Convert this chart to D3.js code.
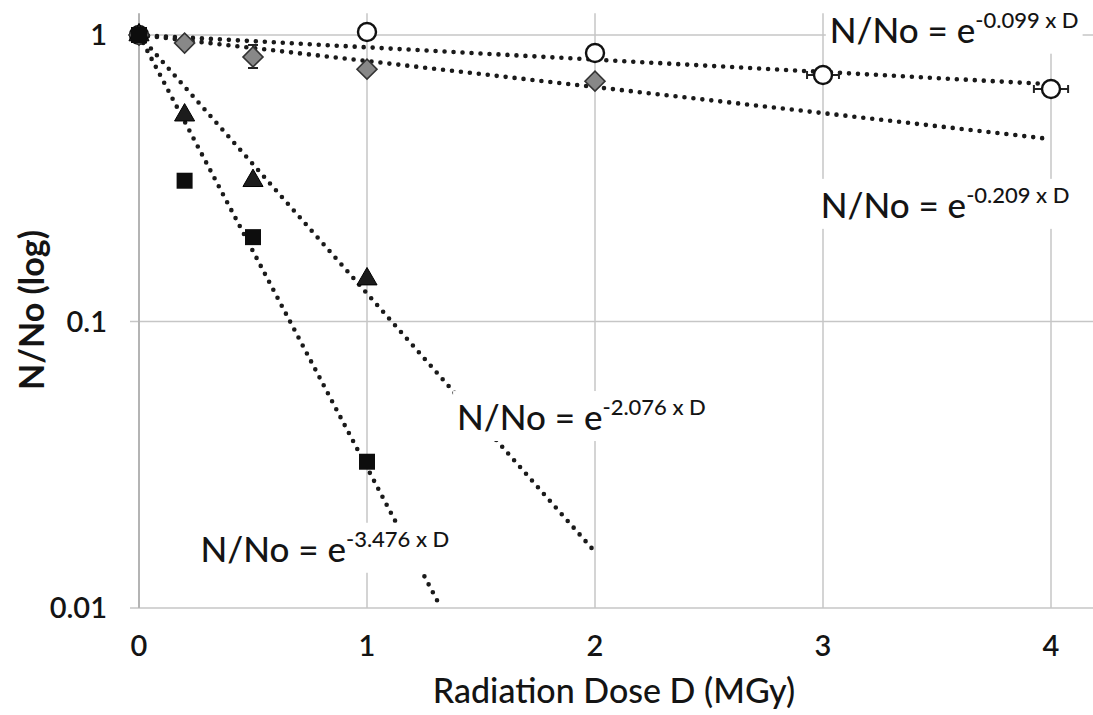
<!DOCTYPE html>
<html>
<head>
<meta charset="utf-8">
<script src="https://cdn.jsdelivr.net/npm/d3@7"></script>
<style>
  html, body { margin: 0; padding: 0; background: #fff; }
  svg { display: block; font-family: Lato, "Open Sans", sans-serif; }
</style>
</head>
<body>
<div id="chart"></div>
<script>
// survival data (dose in MGy, N/No)
const circleDose = [0, 1, 2, 3, 4];
const circleVal = [1, 1.025, 0.865, 0.725, 0.648];
const circleXErr = [0, 0, 0.02, 0.07, 0.075];

const diamondDose = [0, 0.2, 0.5, 1, 2];
const diamondVal = [1, 0.937, 0.838, 0.76, 0.69];
const diamondYLow = [1, 0.937, 0.767, 0.76, 0.69];
const diamondYHigh = [1, 0.937, 0.923, 0.76, 0.69];
const diamondXErr = [0, 0, 0, 0, 0.02];

const triangleDose = [0, 0.2, 0.5, 1];
const triangleVal = [1, 0.525, 0.31, 0.1406];

const squareDose = [0, 0.2, 0.5, 1];
const squareVal = [1, 0.31, 0.197, 0.0324];

// exponential fits: start and end of each dotted trend line
const trendExp = ["-0.099 x D", "-0.209 x D", "-2.076 x D", "-3.476 x D"];
const trendDoseEnd = [4, 4, 2, 1.325];
const trendValEnd = [0.673, 0.433, 0.0157, 0.01];

const xTicks = [0, 1, 2, 3, 4];
const yTicks = [1, 0.1, 0.01];
const yTickLabels = ["1", "0.1", "0.01"];

const width = 1093, height = 715;

const svg = d3.select('#chart').append('svg')
    .attr('width', width)
    .attr('height', height);

svg.append('rect').attr('width', width).attr('height', height).attr('fill', '#fff');

const x = d3.scaleLinear().domain([0, 4.2]).range([139, 139 + 4.2 * 228]);
const y = d3.scaleLog().domain([0.01, 1]).range([608, 35]);
const yTop = 1.19; // top of the plot area

const gridColor = '#c6c6c6';
const textColor = '#141414';

// horizontal gridlines (they poke out left as tick marks)
svg.append('g').selectAll('line')
    .data(yTicks)
    .join('line')
    .attr('x1', 130)
    .attr('x2', width)
    .attr('y1', d => y(d))
    .attr('y2', d => y(d))
    .attr('stroke', gridColor)
    .attr('stroke-width', 1.5);

// vertical gridlines incl. the y axis at 0
svg.append('g').selectAll('line')
    .data(xTicks)
    .join('line')
    .attr('x1', d => x(d))
    .attr('x2', d => x(d))
    .attr('y1', y(yTop))
    .attr('y2', y(0.01))
    .attr('stroke', d => d === 0 ? '#b4b4b4' : gridColor)
    .attr('stroke-width', d => d === 0 ? 2 : 1.5);

// tick labels
svg.append('g').selectAll('text')
    .data(yTicks)
    .join('text')
    .attr('x', 107)
    .attr('y', d => y(d) + 10)
    .attr('text-anchor', 'end')
    .attr('font-size', 29)
    .attr('font-weight', 600)
    .attr('fill', textColor)
    .text((d, i) => yTickLabels[i]);

svg.append('g').selectAll('text')
    .data(xTicks)
    .join('text')
    .attr('x', d => x(d))
    .attr('y', 656)
    .attr('text-anchor', 'middle')
    .attr('font-size', 29)
    .attr('font-weight', 600)
    .attr('fill', textColor)
    .text(d => d);

// axis titles
svg.append('text')
    .attr('x', 614)
    .attr('y', 703)
    .attr('text-anchor', 'middle')
    .attr('font-size', 34)
    .attr('font-weight', 500)
    .attr('fill', textColor)
    .text('Radiation Dose D (MGy)');

svg.append('text')
    .attr('transform', 'translate(44, 310) rotate(-90)')
    .attr('text-anchor', 'middle')
    .attr('font-size', 34)
    .attr('font-weight', 'bold')
    .attr('fill', textColor)
    .text('N/No (log)');

// dotted trend lines
const line = d3.line().x(d => x(d[0])).y(d => y(d[1]));
svg.append('g').selectAll('path')
    .data(trendExp.map((e, i) => [[0, 1], [trendDoseEnd[i], trendValEnd[i]]]))
    .join('path')
    .attr('d', line)
    .attr('fill', 'none')
    .attr('stroke', '#1a1a1a')
    .attr('stroke-width', 4.6)
    .attr('stroke-linecap', 'round')
    .attr('stroke-dasharray', '0 9');

// equation labels on white boxes
const labelPos = [[3.03, 0.94], [2.99, 0.23], [1.395, 0.0418], [0.27, 0.0145]];
const labels = svg.append('g');
trendExp.forEach((e, i) => {
    const g = labels.append('g');
    const t = g.append('text')
        .attr('x', x(labelPos[i][0]))
        .attr('y', y(labelPos[i][1]))
        .attr('font-weight', 500)
        .attr('fill', textColor);
    t.append('tspan').attr('font-size', 35).text('N/No = e');
    t.append('tspan').attr('font-size', 22).attr('dy', -15).text(e);
    const b = t.node().getBBox();
    g.insert('rect', 'text')
        .attr('x', b.x - 4)
        .attr('y', b.y - 2)
        .attr('width', b.width + 8)
        .attr('height', b.height + 6)
        .attr('fill', '#fff');
});

// error bars
const eb = svg.append('g').attr('stroke', '#222').attr('stroke-width', 2);
circleDose.forEach((d, i) => {
    if (!circleXErr[i]) return;
    const yy = y(circleVal[i]);
    eb.append('line').attr('x1', x(d - circleXErr[i])).attr('x2', x(d + circleXErr[i])).attr('y1', yy).attr('y2', yy);
    [d - circleXErr[i], d + circleXErr[i]].forEach(v => {
        eb.append('line').attr('x1', x(v)).attr('x2', x(v)).attr('y1', yy - 4).attr('y2', yy + 4);
    });
});
diamondDose.forEach((d, i) => {
    const xx = x(d);
    if (diamondYLow[i] !== diamondYHigh[i]) {
        eb.append('line').attr('x1', xx).attr('x2', xx).attr('y1', y(diamondYLow[i])).attr('y2', y(diamondYHigh[i]));
        [diamondYLow[i], diamondYHigh[i]].forEach(v => {
            eb.append('line').attr('x1', xx - 5).attr('x2', xx + 5).attr('y1', y(v)).attr('y2', y(v));
        });
    }
    if (diamondXErr[i]) {
        const yy = y(diamondVal[i]);
        eb.append('line').attr('x1', x(d - diamondXErr[i])).attr('x2', x(d + diamondXErr[i])).attr('y1', yy).attr('y2', yy);
    }
});

// markers
svg.append('g').selectAll('circle')
    .data(circleDose.map((d, i) => [d, circleVal[i]]))
    .join('circle')
    .attr('cx', d => x(d[0]))
    .attr('cy', d => y(d[1]))
    .attr('r', 9)
    .attr('fill', '#fff')
    .attr('stroke', '#111')
    .attr('stroke-width', 2.4);

svg.append('g').selectAll('path')
    .data(diamondDose.map((d, i) => [d, diamondVal[i]]))
    .join('path')
    .attr('d', d3.symbol(d3.symbolSquare, 200))
    .attr('transform', d => `translate(${x(d[0])},${y(d[1])}) rotate(45)`)
    .attr('fill', '#888')
    .attr('stroke', '#333')
    .attr('stroke-width', 1.6);

svg.append('g').selectAll('path')
    .data(triangleDose.map((d, i) => [d, triangleVal[i]]))
    .join('path')
    .attr('d', d3.symbol(d3.symbolTriangle, 175))
    .attr('transform', d => `translate(${x(d[0])},${y(d[1])})`)
    .attr('fill', '#1c1c1c')
    .attr('stroke', '#000')
    .attr('stroke-width', 1);

svg.append('g').selectAll('path')
    .data(squareDose.map((d, i) => [d, squareVal[i]]))
    .join('path')
    .attr('d', d3.symbol(d3.symbolSquare, 256))
    .attr('transform', d => `translate(${x(d[0])},${y(d[1])})`)
    .attr('fill', '#0d0d0d');
</script>
</body>
</html>
